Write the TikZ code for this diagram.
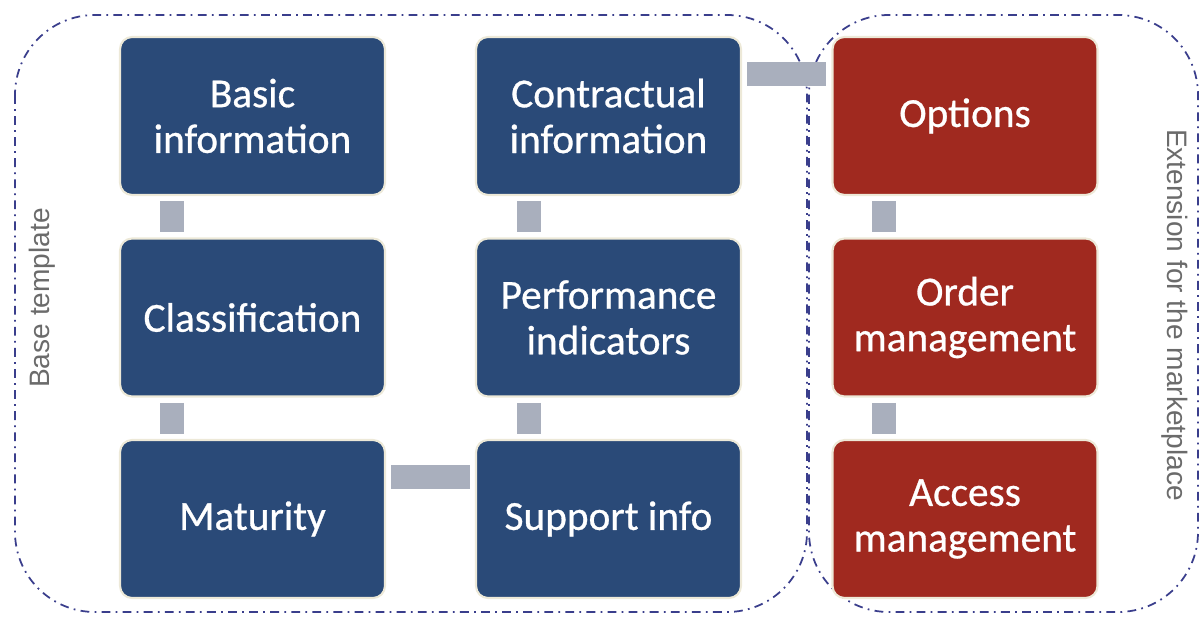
\documentclass[tikz,border=0pt]{standalone}
\usepackage{fontspec}
\setmainfont{Carlito}
\newfontfamily\blockfont{Carlito}[FakeBold=0.7]
\newfontfamily\sidefont{Liberation Sans}
\definecolor{boxblue}{HTML}{2A4A78}
\definecolor{boxred}{HTML}{A0291F}
\definecolor{boxrim}{HTML}{EDE9D8}
\definecolor{linkgray}{HTML}{A9AFBD}
\definecolor{regionblue}{HTML}{3A3E8C}
\definecolor{sidegray}{HTML}{6B6B6B}
\tikzset{
  block/.style={rectangle, rounded corners=0.24cm, draw=boxrim, line width=1.2pt,
    fill=boxblue, text=white, align=center, minimum width=5.3cm, minimum height=3.16cm,
    font=\blockfont\fontsize{23.5}{26}\selectfont},
  extblock/.style={block, fill=boxred},
  link/.style={draw=linkgray, line width=0.48cm, shorten <=3pt, shorten >=3pt},
  region/.style={draw=regionblue, line width=1pt, rounded corners=1.6cm,
    dash pattern=on 5pt off 3pt on 1pt off 3pt},
  sidelabel/.style={text=sidegray, font=\sidefont\fontsize{16}{18}\selectfont}
}
\begin{document}
\begin{tikzpicture}[x=0.02cm, y=-0.02cm]
    \useasboundingbox (0,0) rectangle (1203,621);

    % Dashed regions
    \draw[region] (15,15) rectangle (807,612);
    \draw[region] (809,15) rectangle (1198,612);

    % Base template blocks
    \node[block] (basic) at (252.5,116) {Basic\\information};
    \node[block] (class) at (252.5,317.5) {Classification};
    \node[block] (maturity) at (252.5,519) {Maturity};
    \node[block] (contract) at (608.5,116) {Contractual\\information};
    \node[block] (perf) at (608.5,317.5) {Performance\\indicators};
    \node[block] (support) at (608.5,519) {Support info};

    % Marketplace blocks
    \node[extblock] (options) at (965,116) {Options};
    \node[extblock] (order) at (965,317.5) {Order\\management};
    \node[extblock] (access) at (965,519) {Access\\management};

    % Connectors
    \draw[link] ([xshift=1.06cm]basic.south west) -- ([xshift=1.06cm]class.north west);
    \draw[link] ([xshift=1.06cm]class.south west) -- ([xshift=1.06cm]maturity.north west);
    \draw[link] ([xshift=1.08cm]contract.south west) -- ([xshift=1.08cm]perf.north west);
    \draw[link] ([xshift=1.08cm]perf.south west) -- ([xshift=1.08cm]support.north west);
    \draw[link] ([xshift=1.05cm]options.south west) -- ([xshift=1.05cm]order.north west);
    \draw[link] ([xshift=1.05cm]order.south west) -- ([xshift=1.05cm]access.north west);
    \draw[link] ([yshift=-0.76cm]maturity.north east) -- ([yshift=-0.76cm]support.north west);
    \draw[link] ([yshift=-0.76cm]contract.north east) -- ([yshift=-0.76cm]options.north west);

    % Region labels
    \node[sidelabel, rotate=90] (baselabel) at (42,298) {Base template};
    \node[sidelabel, rotate=-90] (extlabel) at (1175,315) {Extension for the marketplace};
\end{tikzpicture}
\end{document}
